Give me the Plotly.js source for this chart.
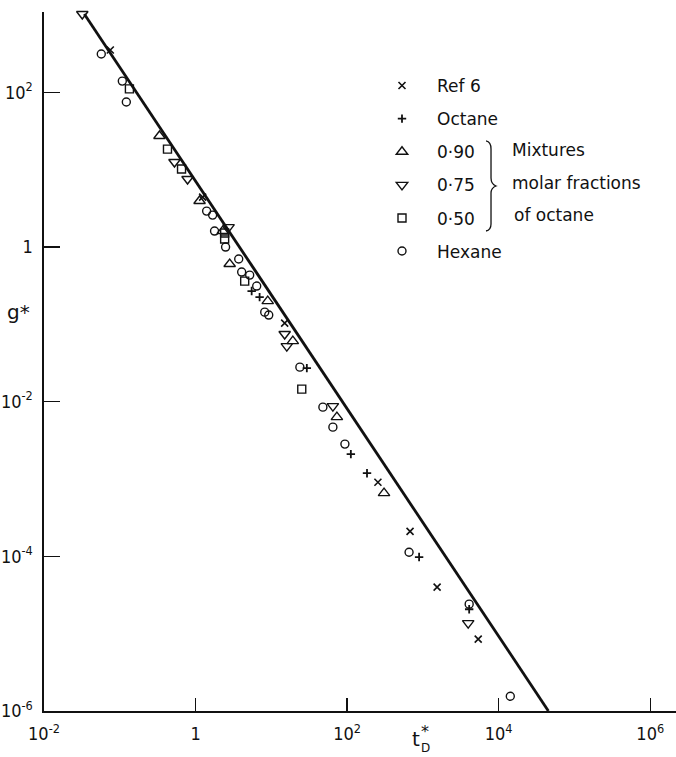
<!DOCTYPE html>
<html>
<head>
<meta charset="utf-8">
<script src="https://cdn.plot.ly/plotly-3.0.1.min.js"></script>
<style>html,body{margin:0;padding:0;background:#fff;}#chart{width:676px;height:757px;}</style>
</head>
<body>
<div id="chart"></div>
<script>
// ---- data (t*_D, g*) ----
var ref6X = [0.075, 1.24, 15.0, 255, 677, 1540, 5370];
var ref6Y = [354, 4.43, 0.104, 9.1e-4, 2.1e-4, 4.0e-5, 8.5e-6];

var octX = [5.5, 7.0, 29.4, 112, 183, 891, 4080];
var octY = [0.27, 0.225, 0.0272, 2.1e-3, 1.19e-3, 9.8e-5, 2.07e-5];

var m90X = [0.334, 1.13, 2.28, 2.82, 8.96, 19.2, 73.3, 307];
var m90Y = [27.3, 3.94, 1.61, 0.603, 0.2, 0.0608, 6.32e-3, 6.57e-4];

var m75X = [0.032, 0.527, 0.784, 2.73, 15.0, 16.0, 64.9, 3960];
var m75Y = [1033, 12.6, 7.58, 1.81, 0.075, 0.0524, 8.77e-3, 1.37e-5];

var m50X = [0.134, 0.426, 0.653, 2.42, 2.42, 4.45, 25.2];
var m50Y = [111, 18.5, 10.2, 1.52, 1.27, 0.363, 0.01456];

var hexX = [0.057, 0.108, 0.122, 1.40, 1.68, 1.78, 2.49, 3.71, 4.06, 5.18, 6.41, 8.18, 9.24, 23.8, 47.9, 64.9, 93.5, 657, 4080, 14230];
var hexY = [314, 140, 75.1, 2.92, 2.59, 1.61, 1.0, 0.70, 0.475, 0.434, 0.313, 0.144, 0.132, 0.028, 8.51e-3, 4.69e-3, 2.83e-3, 1.13e-4, 2.41e-5, 1.55e-6];

var fitX = [0.034, 45290];
var fitY = [1033, 1e-6];

var xTickVals = [1e-2, 1, 1e2, 1e4, 1e6];
var xTickText = ['10<sup>-2</sup>', '1', '10<sup>2</sup>', '10<sup>4</sup>', '10<sup>6</sup>'];
var yTickVals = [1e-6, 1e-4, 1e-2, 1, 1e2];
var yTickText = ['10<sup>-6</sup>', '10<sup>-4</sup>', '10<sup>-2</sup>', '1', '10<sup>2</sup>'];

var seriesNames = ['Ref 6', 'Octane', '0·90', '0·75', '0·50', 'Hexane'];

// ---- chart ----
var INK = '#111';
function pts(x, y, name, symbol, size, lw) {
  return {
    x: x, y: y, name: name, type: 'scatter', mode: 'markers',
    legendgroup: name, cliponaxis: false,
    marker: {symbol: symbol, size: size, color: INK, line: {color: INK, width: lw}}
  };
}
var traces = [
  {x: fitX, y: fitY, type: 'scatter', mode: 'lines', showlegend: false,
   line: {color: INK, width: 2.8}, hoverinfo: 'skip'},
  pts(ref6X, ref6Y, seriesNames[0], 'x-thin-open', 7, 1.6),
  pts(octX, octY, seriesNames[1], 'cross-thin-open', 6, 1.8),
  pts(m90X, m90Y, seriesNames[2], 'triangle-up-open', 10, 1.4),
  pts(m75X, m75Y, seriesNames[3], 'triangle-down-open', 10, 1.4),
  pts(m50X, m50Y, seriesNames[4], 'square-open', 8, 1.4),
  pts(hexX, hexY, seriesNames[5], 'circle-open', 8, 1.4)
];

var W = 676, H = 757, ML = 44, MR = 0, MT = 12, MB = 46;
var PW = W - ML - MR, PH = H - MT - MB;
function px(x) { return (x - ML) / PW; }
function py(y) { return (H - MB - y) / PH; }

// brace "}" next to the mixture entries (decoration, pixel design)
var braceP = [[486,141],[491,142],[491,149],[491,178],[491,184],[496,186],[491,188],[491,193],[491,224],[491,230],[486,231]];
function P(i){ return px(braceP[i][0]).toFixed(4) + ',' + py(braceP[i][1]).toFixed(4); }
var bracePath = 'M' + P(0) + ' Q' + P(1) + ' ' + P(2) + ' L' + P(3) + ' Q' + P(4) + ' ' + P(5) +
  ' Q' + P(6) + ' ' + P(7) + ' L' + P(8) + ' Q' + P(9) + ' ' + P(10);

var tickFont = {family: '"Liberation Sans Narrow", "DejaVu Sans Condensed", "Liberation Sans", sans-serif', size: 18, color: INK};
var textFont = {family: '"DejaVu Sans", sans-serif', size: 17, color: INK};

var layout = {
  width: W, height: H,
  margin: {l: ML, r: MR, t: MT, b: MB, pad: 0},
  paper_bgcolor: '#fff', plot_bgcolor: '#fff',
  showlegend: true,
  legend: {
    x: px(367), y: py(68), xanchor: 'left', yanchor: 'top',
    bgcolor: 'rgba(0,0,0,0)', borderwidth: 0,
    font: textFont, itemwidth: 60, tracegroupgap: 8,
    traceorder: 'grouped'
  },
  xaxis: {
    type: 'log', range: [-2, 6.34], showgrid: false, zeroline: false,
    showline: true, linecolor: INK, linewidth: 1.6,
    ticks: 'inside', ticklen: 13, tickwidth: 1.4, tickcolor: INK,
    tickmode: 'array', tickvals: xTickVals, ticktext: xTickText,
    tickfont: tickFont, ticklabelstandoff: 6
  },
  yaxis: {
    type: 'log', range: [-6, 3.04], showgrid: false, zeroline: false,
    showline: true, linecolor: INK, linewidth: 1.6,
    ticks: 'inside', ticklen: 16, tickwidth: 1.4, tickcolor: INK,
    tickmode: 'array', tickvals: yTickVals, ticktext: yTickText,
    tickfont: tickFont, ticklabelstandoff: 6
  },
  shapes: [
    {type: 'path', xref: 'paper', yref: 'paper', path: bracePath,
     line: {color: INK, width: 1.3}}
  ],
  annotations: [
    {xref: 'paper', yref: 'paper', x: px(510), y: py(150), xanchor: 'left', yanchor: 'middle', showarrow: false, text: 'Mixtures', font: textFont},
    {xref: 'paper', yref: 'paper', x: px(510), y: py(183), xanchor: 'left', yanchor: 'middle', showarrow: false, text: 'molar fractions', font: textFont},
    {xref: 'paper', yref: 'paper', x: px(512), y: py(215), xanchor: 'left', yanchor: 'middle', showarrow: false, text: 'of octane', font: textFont},
    {xref: 'paper', yref: 'paper', x: px(18), y: py(312), xanchor: 'center', yanchor: 'middle', showarrow: false, text: 'g*', font: {family: textFont.family, size: 20, color: INK}},
    {xref: 'paper', yref: 'paper', x: px(416), y: py(739), xanchor: 'center', yanchor: 'middle', showarrow: false, text: 't', font: {family: textFont.family, size: 20, color: INK}},
    {xref: 'paper', yref: 'paper', x: px(425), y: py(731), xanchor: 'center', yanchor: 'middle', showarrow: false, text: '*', font: {family: textFont.family, size: 16, color: INK}},
    {xref: 'paper', yref: 'paper', x: px(425), y: py(748), xanchor: 'center', yanchor: 'middle', showarrow: false, text: 'D', font: {family: textFont.family, size: 12, color: INK}}
  ]
};

Plotly.newPlot('chart', traces, layout, {displayModeBar: false, staticPlot: true});
</script>
</body>
</html>
